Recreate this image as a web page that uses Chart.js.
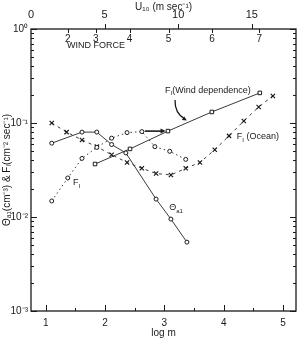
<!DOCTYPE html>
<html>
<head>
<meta charset="utf-8">
<script src="https://cdn.jsdelivr.net/npm/chart.js@4.4.0/dist/chart.umd.min.js"></script>
<style>
  html, body { margin: 0; padding: 0; background: #fff; }
</style>
</head>
<body>
<canvas id="c_flux" width="302" height="341"></canvas>
<script>
// ---- values (x = log m)
const logM_theta = [1.10, 1.61, 1.86, 2.11, 2.35, 2.86, 3.11, 3.38]
const theta_a1 = [0.061, 0.080, 0.080, 0.059, 0.048, 0.0155, 0.0095, 0.0054]

const logM_fi = [1.10, 1.37, 1.61, 1.86, 2.11, 2.37, 2.62, 2.84, 3.09, 3.36]
const fi_dotted = [0.0148, 0.026, 0.042, 0.055, 0.069, 0.079, 0.081, 0.056, 0.050, 0.041]

const logM_wind = [1.83, 2.42, 3.06, 3.80, 4.61]
const fi_wind = [0.0366, 0.053, 0.082, 0.131, 0.209]

const logM_ocean = [1.10, 1.35, 1.61, 1.86, 2.11, 2.37, 2.62, 2.86, 3.11, 3.36, 3.60, 3.85, 4.09, 4.34, 4.59, 4.83]
const fi_ocean = [0.100, 0.080, 0.066, 0.056, 0.046, 0.038, 0.033, 0.029, 0.028, 0.033, 0.038, 0.052, 0.073, 0.105, 0.148, 0.194]

// axes
const logM_ticks = [1, 2, 3, 4, 5]
const u10_ticks = [0, 5, 10, 15]
const y_ticks = [0.001, 0.01, 0.1, 1]
const y_tickLabels = ['10⁻³', '10⁻²', '10⁻¹', '10⁰']
const windForce = [2, 3, 4, 5, 6, 7]
const windForceU10 = [2.5, 4.4, 6.7, 9.35, 12.3, 15.5]

// small horizontal arrow onto the wind dependence curve
const arrowLogM = [2.67, 3.02]
const arrowY = 0.082

const ink = '#1a1a1a'
const lineInk = '#3a3a3a'
const txtFont = '"Liberation Sans", Arial, sans-serif'

let pts = function (xs, ys) {
    return xs.map((x, i) => ({ x: x, y: ys[i] }))
}

// text with subscripts: parts = [[text, isSub], ...]
function drawParts(ctx, x, y, parts, size) {
    let cx = x
    parts.forEach(p => {
        const sub = p[1]
        ctx.font = `${sub ? size - 3 : size}px ${txtFont}`
        ctx.fillText(p[0], cx, sub ? y + 3 : y)
        cx += ctx.measureText(p[0]).width
    })
}

const framePlugin = {
    id: 'frame',
    afterDraw(chart) {
        const ctx = chart.ctx
        const a = chart.chartArea
        const sx = chart.scales.x, sy = chart.scales.y, su = chart.scales.x2
        ctx.save()
        ctx.strokeStyle = ink
        ctx.fillStyle = ink
        ctx.lineWidth = 1.3
        ctx.strokeRect(a.left, a.top, a.right - a.left, a.bottom - a.top)

        ctx.lineWidth = 1
        ctx.beginPath()
        // log ticks, left and right, pointing inward
        for (let d = -3; d <= 0; d++) {
            for (let k = 1; k < 10; k++) {
                const v = k * Math.pow(10, d)
                if (v > 1) break
                const py = Math.round(sy.getPixelForValue(v)) + 0.5
                const len = k === 1 ? 6 : 3
                ctx.moveTo(a.left, py); ctx.lineTo(a.left + len, py)
                ctx.moveTo(a.right, py); ctx.lineTo(a.right - len, py)
            }
        }
        // bottom ticks: integers long, halves short
        for (let v = 1; v <= 5; v += 0.5) {
            const px = Math.round(sx.getPixelForValue(v)) + 0.5
            const len = Number.isInteger(v) ? 6 : 3
            ctx.moveTo(px, a.bottom); ctx.lineTo(px, a.bottom - len)
        }
        // top U10 ticks, outward
        u10_ticks.slice(1).forEach(v => {
            const px = Math.round(su.getPixelForValue(v)) + 0.5
            ctx.moveTo(px, a.top); ctx.lineTo(px, a.top - 5)
        })
        // wind force ticks, inward
        windForceU10.forEach(v => {
            const px = Math.round(su.getPixelForValue(v)) + 0.5
            ctx.moveTo(px, a.top); ctx.lineTo(px, a.top + 4)
        })
        ctx.stroke()

        // wind force numbers
        ctx.textAlign = 'center'
        ctx.textBaseline = 'middle'
        ctx.font = `10px ${txtFont}`
        windForce.forEach((f, i) => {
            ctx.fillText(String(f), su.getPixelForValue(windForceU10[i]), a.top + 10)
        })
        ctx.textAlign = 'left'
        ctx.font = `9px ${txtFont}`
        ctx.fillText('WIND FORCE', su.getPixelForValue(2.45), sy.getPixelForValue(0.66))

        // curve labels
        drawParts(ctx, sx.getPixelForValue(3.01), sy.getPixelForValue(0.224),
            [['F', false], ['I', true], ['(Wind dependence)', false]], 9)
        drawParts(ctx, sx.getPixelForValue(4.22), sy.getPixelForValue(0.071),
            [['F', false], ['I', true], [' (Ocean)', false]], 9)
        drawParts(ctx, sx.getPixelForValue(1.46), sy.getPixelForValue(0.023),
            [['F', false], ['I', true]], 9)
        drawParts(ctx, sx.getPixelForValue(3.08), sy.getPixelForValue(0.0125),
            [['Θ', false], ['a1', true]], 9)

        // horizontal arrow
        const ax0 = sx.getPixelForValue(arrowLogM[0])
        const ax1 = sx.getPixelForValue(arrowLogM[1])
        const ay = sy.getPixelForValue(arrowY)
        ctx.lineWidth = 1.6
        ctx.beginPath()
        ctx.moveTo(ax0, ay); ctx.lineTo(ax1 - 3, ay)
        ctx.stroke()
        ctx.beginPath()
        ctx.moveTo(ax1, ay); ctx.lineTo(ax1 - 5, ay - 2.5); ctx.lineTo(ax1 - 5, ay + 2.5)
        ctx.closePath(); ctx.fill()

        // curved pointer from the label
        const p0 = [sx.getPixelForValue(3.18), sy.getPixelForValue(0.176)]
        const pc = [sx.getPixelForValue(3.17), sy.getPixelForValue(0.128)]
        const p1 = [sx.getPixelForValue(3.38), sy.getPixelForValue(0.106)]
        ctx.lineWidth = 1.3
        ctx.beginPath()
        ctx.moveTo(p0[0], p0[1])
        ctx.quadraticCurveTo(pc[0], pc[1], p1[0] - 2, p1[1] - 1.5)
        ctx.stroke()
        const ang = Math.atan2(p1[1] - pc[1], p1[0] - pc[0])
        ctx.beginPath()
        ctx.moveTo(p1[0], p1[1])
        ctx.lineTo(p1[0] - 5 * Math.cos(ang - 0.45), p1[1] - 5 * Math.sin(ang - 0.45))
        ctx.lineTo(p1[0] - 5 * Math.cos(ang + 0.45), p1[1] - 5 * Math.sin(ang + 0.45))
        ctx.closePath(); ctx.fill()
        ctx.restore()
    }
}

Chart.defaults.font.family = txtFont
Chart.defaults.font.size = 10
Chart.defaults.color = ink

const markerBase = {
    showLine: true,
    borderColor: lineInk,
    borderWidth: 1,
    pointBorderColor: ink,
    pointBackgroundColor: '#fff',
    pointBorderWidth: 1,
    fill: false,
    tension: 0
}

var ctx = document.getElementById('c_flux').getContext('2d')
new Chart(ctx, {
    type: 'scatter',
    data: {
        datasets: [
            Object.assign({}, markerBase, {
                label: 'Theta a1',
                data: pts(logM_theta, theta_a1),
                pointStyle: 'circle',
                pointRadius: 2
            }),
            Object.assign({}, markerBase, {
                label: 'F_I',
                data: pts(logM_fi, fi_dotted),
                borderDash: [1.5, 3],
                pointStyle: 'circle',
                pointRadius: 2
            }),
            Object.assign({}, markerBase, {
                label: 'F_I (Wind dependence)',
                data: pts(logM_wind, fi_wind),
                pointStyle: 'rect',
                pointRadius: 2.5
            }),
            Object.assign({}, markerBase, {
                label: 'F_I (Ocean)',
                data: pts(logM_ocean, fi_ocean),
                borderDash: [3, 4],
                pointStyle: 'crossRot',
                pointRadius: 3,
                pointBorderWidth: 1.2
            })
        ]
    },
    options: {
        responsive: false,
        animation: false,
        layout: { padding: { left: 0, right: 6, top: 0, bottom: 0 } },
        plugins: {
            legend: { display: false },
            tooltip: { enabled: false }
        },
        scales: {
            x: {
                type: 'linear',
                position: 'bottom',
                min: 0.75,
                max: 5.22,
                grid: { display: false, drawTicks: false },
                border: { display: false },
                afterBuildTicks: s => { s.ticks = logM_ticks.map(v => ({ value: v })) },
                afterFit: s => { s.height = 30 },
                ticks: { padding: 6, font: { size: 10 } },
                title: { display: true, text: 'log m', font: { size: 10 }, padding: { top: 0, bottom: 2 } }
            },
            x2: {
                type: 'linear',
                position: 'top',
                min: 0,
                max: 18,
                grid: { display: false, drawTicks: false },
                border: { display: false },
                afterBuildTicks: s => { s.ticks = u10_ticks.map(v => ({ value: v })) },
                afterFit: s => { s.height = 29 },
                ticks: { padding: 7, font: { size: 11 } },
                title: { display: true, text: 'U₁₀ (m sec⁻¹)', font: { size: 10 }, padding: { top: 1, bottom: 0 } }
            },
            y: {
                type: 'logarithmic',
                min: 0.001,
                max: 1,
                grid: { display: false, drawTicks: false },
                border: { display: false },
                afterBuildTicks: s => { s.ticks = y_ticks.map(v => ({ value: v })) },
                afterFit: s => { s.width = 31 },
                ticks: {
                    padding: 3,
                    font: { size: 10 },
                    callback: function (v) {
                        const i = y_ticks.indexOf(v)
                        return i >= 0 ? y_tickLabels[i] : ''
                    }
                },
                title: { display: true, text: 'Θₐ₁(cm⁻³) & Fᵢ(cm⁻² sec⁻¹)', font: { size: 10 }, padding: { top: 1, bottom: 0 } }
            }
        }
    },
    plugins: [framePlugin]
})
</script>
</body>
</html>
